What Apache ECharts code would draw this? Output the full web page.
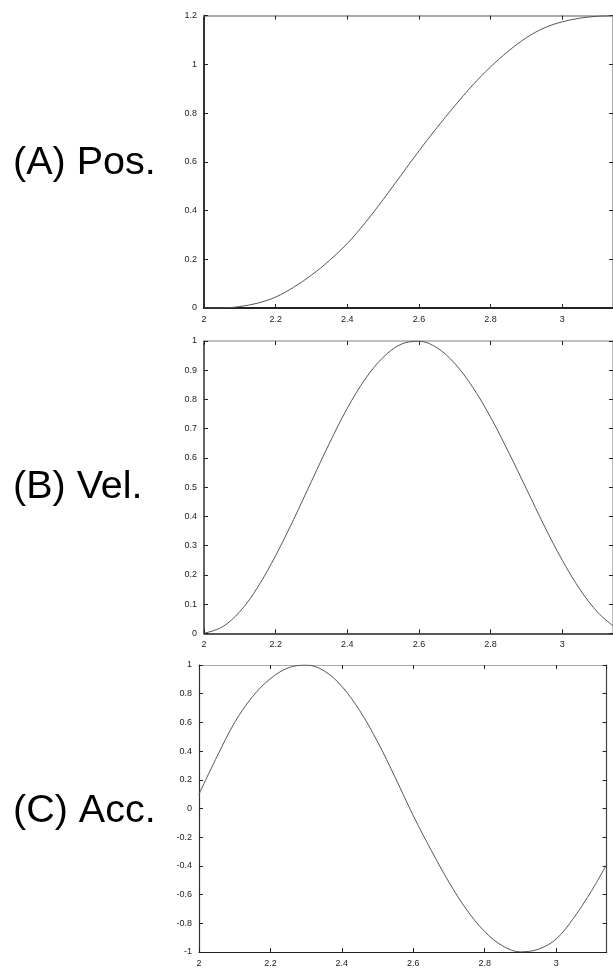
<!DOCTYPE html>
<html>
<head>
<meta charset="utf-8">
<script src="https://cdn.jsdelivr.net/npm/echarts@6/dist/echarts.min.js"></script>
<style>
  html, body { margin: 0; padding: 0; background: #fff; }
  #chart { width: 613px; height: 968px; }
</style>
</head>
<body>
<div id="chart"></div>
<script>
// Sample times shared by all three profiles (last sample is pi)
var times = [2.00, 2.05, 2.10, 2.15, 2.20, 2.25, 2.30, 2.35, 2.40, 2.45, 2.50, 2.55,
             2.60, 2.65, 2.70, 2.75, 2.80, 2.85, 2.90, 2.95, 3.00, 3.05, 3.10, 3.1416];

// (A) position
var position = [0, 0, 0.006, 0.02, 0.045, 0.085, 0.135, 0.195, 0.265, 0.35, 0.445, 0.545,
                0.645, 0.74, 0.83, 0.915, 0.99, 1.055, 1.11, 1.15, 1.175, 1.19, 1.198, 1.2];

// (B) velocity
var velocity = [0, 0.021, 0.074, 0.158, 0.266, 0.389, 0.52, 0.65, 0.77, 0.87, 0.944, 0.989,
                0.999, 0.977, 0.923, 0.842, 0.739, 0.62, 0.494, 0.367, 0.25, 0.149, 0.07, 0.026];

// (C) acceleration
var acceleration = [0.1, 0.36, 0.6, 0.78, 0.905, 0.98, 1.0, 0.96, 0.851, 0.682, 0.465, 0.213,
                    -0.05, -0.29, -0.514, -0.707, -0.858, -0.957, -0.999, -0.981, -0.91, -0.76, -0.57, -0.39];

var panelNames = ['(A) Pos.', '(B) Vel.', '(C) Acc.'];
var xMin = 2, xMax = Math.PI, xStep = 0.2;
var yRanges = [[0, 1.2, 0.2], [0, 1, 0.1], [-1, 1, 0.2]];

var grids = [
  { left: 204, top: 15.7, width: 413, height: 292.3 },
  { left: 204, top: 341, width: 413, height: 292.3 },
  { left: 199, top: 665, width: 407.7, height: 292.3 }
];
var frameWidths = [2, 1.5, 1.2];
var labelCenters = [163, 487, 811];

var FONT = '"Liberation Sans", Arial, sans-serif';

function zip(xs, ys) {
  return xs.map(function (x, i) { return [x, ys[i]]; });
}

function xLabel(v) {
  var r = Math.round(v / xStep) * xStep;
  return Math.abs(v - r) < 1e-6 ? String(+r.toFixed(1)) : '';
}

var xAxes = [], yAxes = [], series = [], graphics = [];
var profiles = [position, velocity, acceleration];

for (var i = 0; i < 3; i++) {
  var lw = frameWidths[i];
  var tick = { show: true, inside: true, length: 4, lineStyle: { color: '#222', width: 1 } };
  // bottom and top x axes
  xAxes.push({
    type: 'value', gridIndex: i, position: 'bottom', min: xMin, max: xMax, interval: xStep,
    axisLine: { show: true, onZero: false, lineStyle: { color: '#222', width: lw } },
    axisTick: tick, splitLine: { show: false },
    axisLabel: { margin: 7, fontSize: 9, color: '#222', fontFamily: FONT, formatter: xLabel, showMaxLabel: false }
  });
  xAxes.push({
    type: 'value', gridIndex: i, position: 'top', min: xMin, max: xMax, interval: xStep,
    axisLine: { show: true, onZero: false, lineStyle: { color: '#aaa', width: lw } },
    axisTick: tick, splitLine: { show: false }, axisLabel: { show: false }
  });
  var yr = yRanges[i];
  yAxes.push({
    type: 'value', gridIndex: i, position: 'left', min: yr[0], max: yr[1], interval: yr[2],
    axisLine: { show: true, onZero: false, lineStyle: { color: '#333', width: lw } },
    axisTick: tick, splitLine: { show: false },
    axisLabel: { margin: 7, fontSize: 9, color: '#222', fontFamily: FONT }
  });
  yAxes.push({
    type: 'value', gridIndex: i, position: 'right', min: yr[0], max: yr[1], interval: yr[2],
    axisLine: { show: true, onZero: false, lineStyle: { color: i === 2 ? '#444' : '#aaa', width: lw } },
    axisTick: tick, splitLine: { show: false }, axisLabel: { show: false }
  });
  series.push({
    type: 'line', xAxisIndex: i * 2, yAxisIndex: i * 2,
    data: zip(times, profiles[i]),
    smooth: 0.35, showSymbol: false, silent: true,
    lineStyle: { color: '#555', width: 1 }
  });
  graphics.push({
    type: 'text', x: 13, y: labelCenters[i],
    style: { text: panelNames[i], font: '39.5px ' + FONT, fill: '#000', textVerticalAlign: 'middle' }
  });
}

var chart = echarts.init(document.getElementById('chart'), null, { renderer: 'canvas' });
chart.setOption({
  backgroundColor: '#fff',
  animation: false,
  grid: grids,
  xAxis: xAxes,
  yAxis: yAxes,
  series: series,
  graphic: graphics
});
</script>
</body>
</html>
